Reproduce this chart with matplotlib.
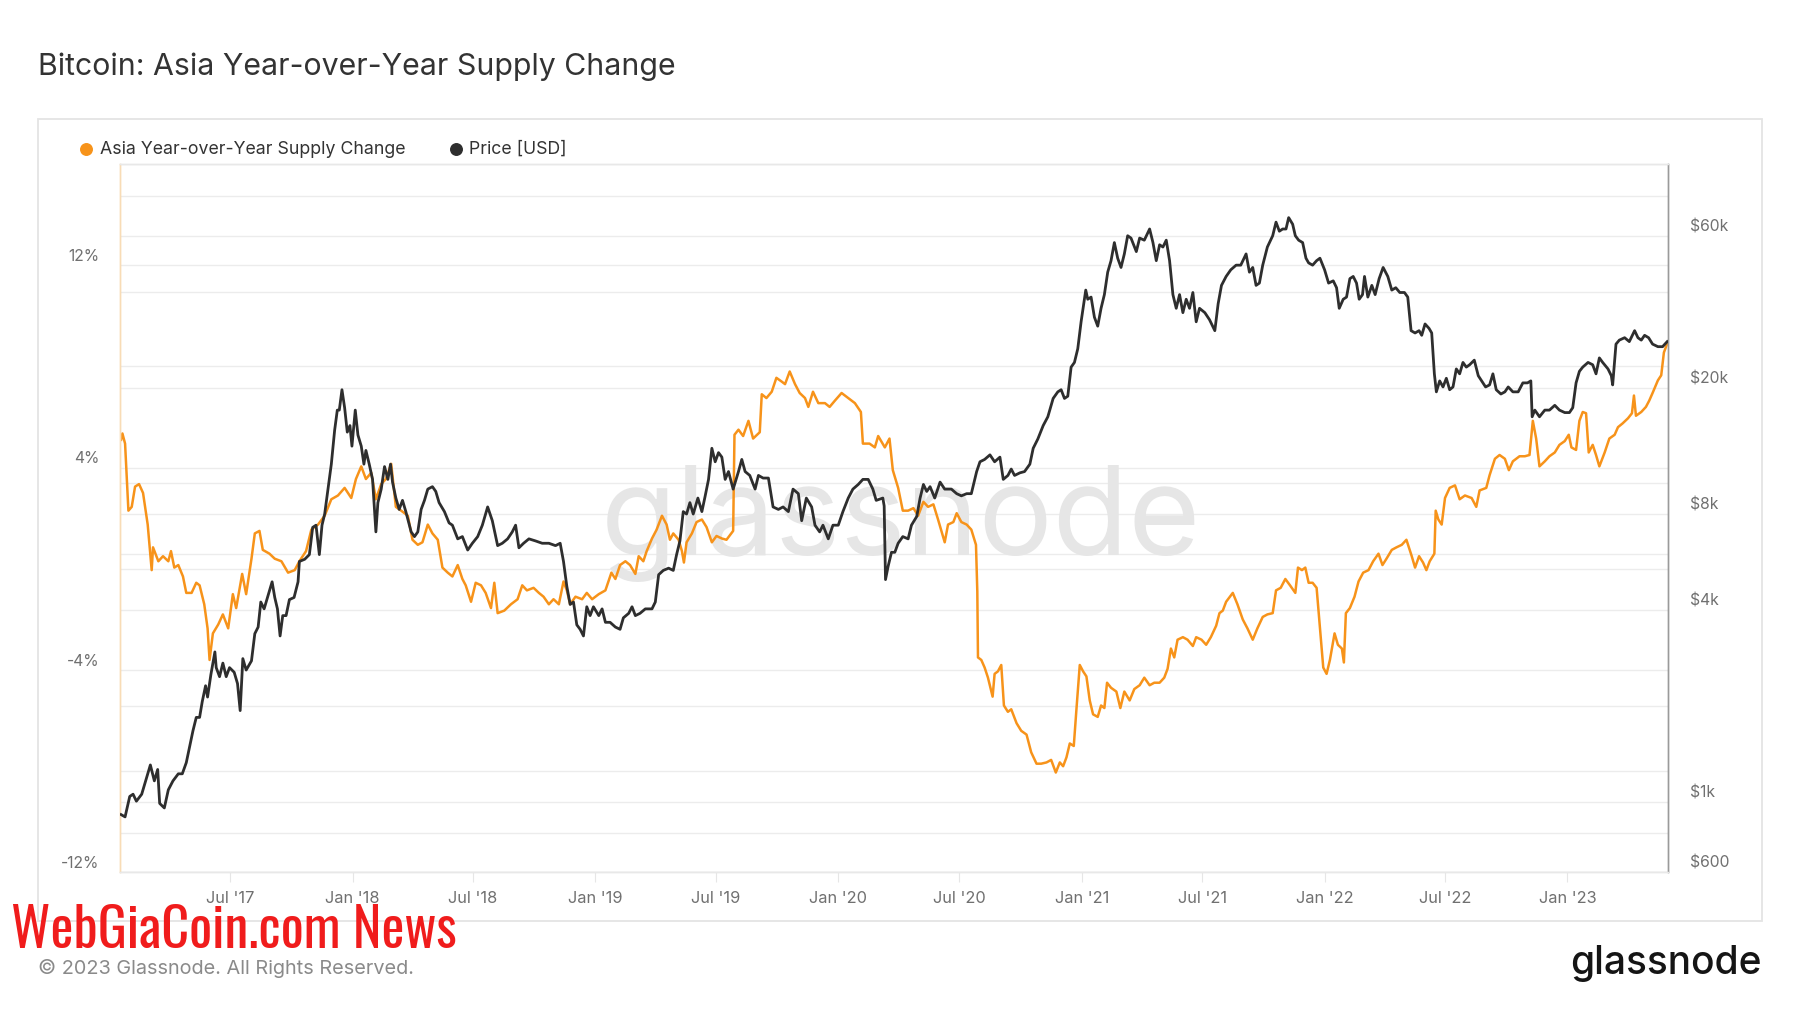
import pandas as pd
import matplotlib
matplotlib.use('Agg')
import matplotlib.pyplot as plt
import matplotlib.dates as mdates
from matplotlib.patches import Rectangle
from matplotlib.lines import Line2D
from matplotlib.transforms import blended_transform_factory, offset_copy

plt.rcParams['font.family'] = ['Inter', 'DejaVu Sans']

# Asia year-over-year supply change, %
supply_dates = [
    '2017-01-18', '2017-01-20', '2017-01-24', '2017-01-29', '2017-02-03', '2017-02-08', '2017-02-14',
    '2017-02-20', '2017-02-27', '2017-03-05', '2017-03-07', '2017-03-15', '2017-03-22', '2017-03-30',
    '2017-04-03', '2017-04-08', '2017-04-14', '2017-04-21', '2017-04-26', '2017-05-04', '2017-05-11',
    '2017-05-16', '2017-05-23', '2017-05-28', '2017-05-31', '2017-06-05', '2017-06-13', '2017-06-20',
    '2017-06-28', '2017-07-05', '2017-07-10', '2017-07-19', '2017-07-25', '2017-08-02', '2017-08-07',
    '2017-08-14', '2017-08-19', '2017-08-29', '2017-09-06', '2017-09-16', '2017-09-26', '2017-10-06',
    '2017-10-13', '2017-10-23', '2017-10-31', '2017-11-10', '2017-11-20', '2017-11-30', '2017-12-10',
    '2017-12-20', '2017-12-30', '2018-01-06', '2018-01-14', '2018-01-21', '2018-01-29', '2018-02-05',
    '2018-02-13', '2018-02-20', '2018-02-28', '2018-03-07', '2018-03-15', '2018-03-25', '2018-04-01',
    '2018-04-09', '2018-04-16', '2018-04-24', '2018-05-01', '2018-05-09', '2018-05-16', '2018-05-24',
    '2018-05-31', '2018-06-08', '2018-06-15', '2018-06-20', '2018-06-28', '2018-07-05', '2018-07-13',
    '2018-07-20', '2018-07-28', '2018-08-02', '2018-08-07', '2018-08-17', '2018-08-27', '2018-09-06',
    '2018-09-13', '2018-09-20', '2018-09-30', '2018-10-08', '2018-10-15', '2018-10-23', '2018-10-30',
    '2018-11-07', '2018-11-14', '2018-11-19', '2018-11-24', '2018-12-02', '2018-12-12', '2018-12-19',
    '2018-12-27', '2019-01-06', '2019-01-16', '2019-01-25', '2019-01-31', '2019-02-07', '2019-02-15',
    '2019-02-22', '2019-03-02', '2019-03-07', '2019-03-14', '2019-03-19', '2019-03-27', '2019-04-03',
    '2019-04-11', '2019-04-18', '2019-04-23', '2019-04-28', '2019-05-06', '2019-05-11', '2019-05-14',
    '2019-05-18', '2019-05-26', '2019-06-02', '2019-06-10', '2019-06-17', '2019-06-25', '2019-07-02',
    '2019-07-10', '2019-07-17', '2019-07-27', '2019-07-29', '2019-08-04', '2019-08-11', '2019-08-19',
    '2019-08-26', '2019-09-05', '2019-09-08', '2019-09-15', '2019-09-23', '2019-09-30', '2019-10-08',
    '2019-10-13', '2019-10-20', '2019-10-28', '2019-11-04', '2019-11-12', '2019-11-17', '2019-11-24',
    '2019-12-02', '2019-12-12', '2019-12-19', '2019-12-27', '2020-01-06', '2020-01-16', '2020-01-26',
    '2020-02-04', '2020-02-07', '2020-02-17', '2020-02-25', '2020-03-01', '2020-03-11', '2020-03-18',
    '2020-03-23', '2020-03-31', '2020-04-07', '2020-04-15', '2020-04-23', '2020-04-30', '2020-05-08',
    '2020-05-15', '2020-05-23', '2020-05-30', '2020-06-04', '2020-06-09', '2020-06-14', '2020-06-22',
    '2020-06-27', '2020-07-04', '2020-07-12', '2020-07-19', '2020-07-26', '2020-07-28', '2020-07-29',
    '2020-08-03', '2020-08-08', '2020-08-13', '2020-08-20', '2020-08-23', '2020-08-28', '2020-09-02',
    '2020-09-06', '2020-09-12', '2020-09-17', '2020-09-25', '2020-10-02', '2020-10-10', '2020-10-17',
    '2020-10-25', '2020-11-01', '2020-11-09', '2020-11-16', '2020-11-23', '2020-11-29', '2020-12-04',
    '2020-12-09', '2020-12-14', '2020-12-20', '2020-12-24', '2020-12-29', '2021-01-03', '2021-01-08',
    '2021-01-13', '2021-01-18', '2021-01-25', '2021-01-30', '2021-02-04', '2021-02-08', '2021-02-14',
    '2021-02-22', '2021-02-28', '2021-03-06', '2021-03-14', '2021-03-21', '2021-03-29', '2021-04-05',
    '2021-04-13', '2021-04-20', '2021-04-28', '2021-05-05', '2021-05-10', '2021-05-15', '2021-05-20',
    '2021-05-25', '2021-06-02', '2021-06-09', '2021-06-17', '2021-06-22', '2021-06-30', '2021-07-07',
    '2021-07-14', '2021-07-22', '2021-07-27', '2021-08-01', '2021-08-06', '2021-08-16', '2021-08-23',
    '2021-08-31', '2021-09-07', '2021-09-15', '2021-09-22', '2021-09-30', '2021-10-07', '2021-10-15',
    '2021-10-20', '2021-10-27', '2021-11-03', '2021-11-10', '2021-11-18', '2021-11-22', '2021-11-28',
    '2021-12-03', '2021-12-08', '2021-12-14', '2021-12-20', '2021-12-25', '2021-12-30', '2022-01-04',
    '2022-01-09', '2022-01-16', '2022-01-21', '2022-01-27', '2022-01-30', '2022-02-02', '2022-02-08',
    '2022-02-15', '2022-02-21', '2022-02-28', '2022-03-08', '2022-03-15', '2022-03-23', '2022-03-29',
    '2022-04-04', '2022-04-12', '2022-04-19', '2022-04-27', '2022-05-04', '2022-05-12', '2022-05-17',
    '2022-05-23', '2022-05-29', '2022-06-03', '2022-06-08', '2022-06-15', '2022-06-17', '2022-06-21',
    '2022-06-26', '2022-07-01', '2022-07-08', '2022-07-16', '2022-07-23', '2022-07-31', '2022-08-10',
    '2022-08-17', '2022-08-22', '2022-09-01', '2022-09-06', '2022-09-14', '2022-09-21', '2022-09-29',
    '2022-10-05', '2022-10-11', '2022-10-21', '2022-10-29', '2022-11-05', '2022-11-10', '2022-11-15',
    '2022-11-20', '2022-11-28', '2022-12-05', '2022-12-13', '2022-12-20', '2022-12-28', '2023-01-03',
    '2023-01-07', '2023-01-14', '2023-01-19', '2023-01-24', '2023-01-29', '2023-02-02', '2023-02-08',
    '2023-02-13', '2023-02-18', '2023-02-26', '2023-03-05', '2023-03-13', '2023-03-18', '2023-03-25',
    '2023-04-02', '2023-04-08', '2023-04-11', '2023-04-14', '2023-04-22', '2023-04-29', '2023-05-04',
    '2023-05-09', '2023-05-17', '2023-05-22', '2023-05-26', '2023-05-31',
]
supply_change = [
    5.1, 5.35, 4.95, 2.3, 2.45, 3.25, 3.35,
    3.0, 1.75, -0.05, 0.85, 0.3, 0.5, 0.3,
    0.7, 0.05, 0.15, -0.3, -0.95, -0.95, -0.55,
    -0.65, -1.4, -2.35, -3.6, -2.55, -2.2, -1.8,
    -2.35, -1.0, -1.55, -0.2, -1.0, 0.4, 1.4,
    1.5, 0.75, 0.6, 0.4, 0.3, -0.15, -0.05,
    0.3, 0.7, 1.55, 1.75, 2.1, 2.75, 2.9,
    3.2, 2.8, 3.55, 4.05, 3.55, 3.8, 2.75,
    3.35, 3.55, 4.15, 2.45, 2.3, 2.1, 1.15,
    0.95, 1.05, 1.75, 1.4, 1.15, 0.05, -0.15,
    -0.3, 0.15, -0.4, -0.65, -1.3, -0.55, -0.65,
    -0.95, -1.55, -0.55, -1.75, -1.65, -1.4, -1.2,
    -0.65, -0.85, -0.75, -0.95, -1.1, -1.4, -1.2,
    -1.4, -0.5, -0.85, -1.4, -1.1, -1.2, -0.95,
    -1.2, -1.0, -0.85, -0.15, -0.4, 0.15, 0.3,
    0.15, -0.2, 0.5, 0.3, 0.7, 1.2, 1.55,
    2.1, 1.75, 1.15, 1.4, 1.15, 0.7, 0.25,
    1.05, 1.4, 1.85, 1.95, 1.65, 1.05, 1.3,
    1.2, 1.15, 1.5, 5.3, 5.5, 5.25, 5.85,
    5.15, 5.4, 6.9, 6.75, 7.0, 7.55, 7.4,
    7.3, 7.8, 7.3, 6.95, 6.75, 6.4, 7.0,
    6.55, 6.55, 6.4, 6.65, 6.95, 6.75, 6.55,
    6.2, 4.95, 4.95, 4.8, 5.25, 4.8, 5.15,
    3.9, 3.2, 2.3, 2.3, 2.4, 2.1, 2.65,
    2.45, 2.55, 1.95, 1.5, 1.05, 1.75, 1.85,
    2.2, 1.85, 1.75, 1.55, 0.95, -0.9, -3.5,
    -3.6, -3.9, -4.3, -5.05, -4.15, -4.05, -3.8,
    -5.4, -5.65, -5.55, -6.1, -6.4, -6.55, -7.25,
    -7.7, -7.7, -7.65, -7.55, -8.05, -7.65, -7.8,
    -7.45, -6.9, -7.0, -5.55, -3.8, -4.05, -4.25,
    -5.2, -5.75, -5.85, -5.4, -5.5, -4.5, -4.7,
    -4.85, -5.5, -4.85, -5.2, -4.75, -4.6, -4.3,
    -4.6, -4.5, -4.5, -4.3, -3.95, -3.15, -3.5,
    -2.8, -2.7, -2.8, -3.05, -2.7, -2.8, -3.0,
    -2.7, -2.25, -1.75, -1.65, -1.3, -0.95, -1.4,
    -2.0, -2.35, -2.8, -2.35, -1.9, -1.8, -1.75,
    -0.85, -0.75, -0.4, -0.65, -0.95, 0.05, -0.05,
    0.05, -0.55, -0.55, -0.75, -2.35, -3.9, -4.15,
    -3.6, -2.55, -3.0, -3.15, -3.7, -1.75, -1.55,
    -1.1, -0.5, -0.15, -0.05, 0.3, 0.6, 0.15,
    0.4, 0.75, 0.85, 0.95, 1.15, 0.5, 0.05,
    0.5, 0.25, -0.05, 0.3, 0.6, 2.3, 1.95,
    1.75, 2.8, 3.2, 3.3, 2.75, 2.9, 2.8,
    2.45, 3.1, 3.2, 3.7, 4.35, 4.5, 4.35,
    3.9, 4.25, 4.45, 4.45, 4.5, 5.85, 5.15,
    4.05, 4.25, 4.45, 4.6, 4.9, 5.05, 5.3,
    4.8, 4.7, 5.85, 6.2, 6.15, 4.6, 4.9,
    4.5, 4.05, 4.6, 5.15, 5.3, 5.6, 5.75,
    5.95, 6.15, 6.85, 6.05, 6.2, 6.4, 6.65,
    6.95, 7.45, 7.65, 8.55, 8.9,
]

# BTC price, USD
price_dates = [
    '2017-01-18', '2017-01-24', '2017-01-31', '2017-02-05', '2017-02-10', '2017-02-18', '2017-02-25',
    '2017-03-03', '2017-03-09', '2017-03-14', '2017-03-17', '2017-03-24', '2017-03-30', '2017-04-06',
    '2017-04-14', '2017-04-20', '2017-04-26', '2017-05-01', '2017-05-06', '2017-05-11', '2017-05-16',
    '2017-05-20', '2017-05-25', '2017-05-28', '2017-06-02', '2017-06-08', '2017-06-10', '2017-06-15',
    '2017-06-20', '2017-06-25', '2017-06-30', '2017-07-07', '2017-07-12', '2017-07-16', '2017-07-20',
    '2017-07-25', '2017-08-02', '2017-08-07', '2017-08-12', '2017-08-16', '2017-08-21', '2017-08-27',
    '2017-09-02', '2017-09-06', '2017-09-10', '2017-09-14', '2017-09-18', '2017-09-23', '2017-09-28',
    '2017-10-05', '2017-10-11', '2017-10-13', '2017-10-21', '2017-10-28', '2017-11-02', '2017-11-07',
    '2017-11-12', '2017-11-16', '2017-11-20', '2017-11-25', '2017-11-30', '2017-12-05', '2017-12-09',
    '2017-12-12', '2017-12-16', '2017-12-20', '2017-12-24', '2017-12-28', '2017-12-31', '2018-01-05',
    '2018-01-09', '2018-01-14', '2018-01-18', '2018-01-21', '2018-01-26', '2018-01-31', '2018-02-05',
    '2018-02-08', '2018-02-13', '2018-02-18', '2018-02-23', '2018-02-27', '2018-03-02', '2018-03-07',
    '2018-03-12', '2018-03-17', '2018-03-22', '2018-03-30', '2018-04-04', '2018-04-09', '2018-04-14',
    '2018-04-19', '2018-04-24', '2018-05-01', '2018-05-06', '2018-05-11', '2018-05-19', '2018-05-26',
    '2018-05-31', '2018-06-08', '2018-06-15', '2018-06-23', '2018-06-30', '2018-07-08', '2018-07-15',
    '2018-07-23', '2018-07-30', '2018-08-07', '2018-08-14', '2018-08-22', '2018-08-29', '2018-09-03',
    '2018-09-08', '2018-09-15', '2018-09-23', '2018-10-03', '2018-10-13', '2018-10-23', '2018-11-02',
    '2018-11-09', '2018-11-14', '2018-11-19', '2018-11-24', '2018-11-29', '2018-12-04', '2018-12-09',
    '2018-12-14', '2018-12-19', '2018-12-24', '2018-12-29', '2019-01-06', '2019-01-11', '2019-01-16',
    '2019-01-23', '2019-01-31', '2019-02-07', '2019-02-12', '2019-02-20', '2019-02-25', '2019-03-02',
    '2019-03-09', '2019-03-17', '2019-03-27', '2019-04-01', '2019-04-06', '2019-04-13', '2019-04-21',
    '2019-04-28', '2019-05-03', '2019-05-08', '2019-05-13', '2019-05-18', '2019-05-23', '2019-05-28',
    '2019-06-04', '2019-06-10', '2019-06-15', '2019-06-20', '2019-06-25', '2019-06-30', '2019-07-05',
    '2019-07-10', '2019-07-15', '2019-07-20', '2019-07-27', '2019-08-04', '2019-08-09', '2019-08-14',
    '2019-08-21', '2019-08-29', '2019-09-03', '2019-09-10', '2019-09-18', '2019-09-25', '2019-10-03',
    '2019-10-10', '2019-10-18', '2019-10-25', '2019-11-02', '2019-11-07', '2019-11-14', '2019-11-22',
    '2019-11-27', '2019-12-04', '2019-12-09', '2019-12-17', '2019-12-24', '2020-01-01', '2020-01-08',
    '2020-01-16', '2020-01-23', '2020-01-31', '2020-02-07', '2020-02-15', '2020-02-22', '2020-02-27',
    '2020-03-08', '2020-03-10', '2020-03-12', '2020-03-16', '2020-03-21', '2020-03-26', '2020-03-31',
    '2020-04-07', '2020-04-15', '2020-04-20', '2020-04-28', '2020-05-03', '2020-05-08', '2020-05-13',
    '2020-05-18', '2020-05-25', '2020-06-02', '2020-06-09', '2020-06-19', '2020-06-27', '2020-07-04',
    '2020-07-12', '2020-07-19', '2020-07-27', '2020-08-01', '2020-08-08', '2020-08-16', '2020-08-23',
    '2020-08-31', '2020-09-05', '2020-09-12', '2020-09-17', '2020-09-22', '2020-09-30', '2020-10-07',
    '2020-10-15', '2020-10-20', '2020-10-27', '2020-11-04', '2020-11-11', '2020-11-19', '2020-11-26',
    '2020-12-01', '2020-12-06', '2020-12-11', '2020-12-16', '2020-12-21', '2020-12-26', '2020-12-31',
    '2021-01-07', '2021-01-10', '2021-01-15', '2021-01-20', '2021-01-25', '2021-01-30', '2021-02-04',
    '2021-02-09', '2021-02-14', '2021-02-19', '2021-02-24', '2021-03-01', '2021-03-06', '2021-03-11',
    '2021-03-16', '2021-03-24', '2021-03-29', '2021-04-05', '2021-04-13', '2021-04-18', '2021-04-23',
    '2021-04-28', '2021-05-03', '2021-05-08', '2021-05-13', '2021-05-18', '2021-05-23', '2021-05-28',
    '2021-06-02', '2021-06-07', '2021-06-12', '2021-06-17', '2021-06-22', '2021-06-27', '2021-07-05',
    '2021-07-12', '2021-07-20', '2021-07-25', '2021-07-30', '2021-08-06', '2021-08-13', '2021-08-21',
    '2021-08-28', '2021-09-05', '2021-09-10', '2021-09-15', '2021-09-20', '2021-09-25', '2021-09-30',
    '2021-10-07', '2021-10-15', '2021-10-20', '2021-10-25', '2021-10-30', '2021-11-04', '2021-11-08',
    '2021-11-14', '2021-11-18', '2021-11-23', '2021-11-29', '2021-12-04', '2021-12-08', '2021-12-14',
    '2021-12-20', '2021-12-25', '2022-01-01', '2022-01-07', '2022-01-14', '2022-01-19', '2022-01-23',
    '2022-01-29', '2022-02-03', '2022-02-08', '2022-02-13', '2022-02-18', '2022-02-22', '2022-02-27',
    '2022-03-02', '2022-03-07', '2022-03-13', '2022-03-18', '2022-03-24', '2022-03-30', '2022-04-06',
    '2022-04-12', '2022-04-18', '2022-04-24', '2022-05-01', '2022-05-06', '2022-05-11', '2022-05-17',
    '2022-05-23', '2022-05-27', '2022-06-01', '2022-06-07', '2022-06-11', '2022-06-15', '2022-06-18',
    '2022-06-23', '2022-06-28', '2022-07-03', '2022-07-08', '2022-07-13', '2022-07-18', '2022-07-23',
    '2022-07-28', '2022-08-02', '2022-08-07', '2022-08-14', '2022-08-20', '2022-08-25', '2022-08-31',
    '2022-09-06', '2022-09-11', '2022-09-16', '2022-09-23', '2022-09-29', '2022-10-04', '2022-10-11',
    '2022-10-19', '2022-10-26', '2022-11-02', '2022-11-07', '2022-11-09', '2022-11-13', '2022-11-20',
    '2022-11-28', '2022-12-05', '2022-12-13', '2022-12-20', '2022-12-28', '2023-01-04', '2023-01-09',
    '2023-01-14', '2023-01-19', '2023-01-24', '2023-02-01', '2023-02-08', '2023-02-13', '2023-02-18',
    '2023-02-23', '2023-03-03', '2023-03-08', '2023-03-10', '2023-03-15', '2023-03-20', '2023-03-28',
    '2023-04-04', '2023-04-12', '2023-04-17', '2023-04-22', '2023-04-27', '2023-05-03', '2023-05-09',
    '2023-05-17', '2023-05-24', '2023-05-31',
]
price_usd = [
    912, 897, 1040, 1057, 1005, 1057, 1184,
    1306, 1164, 1264, 989, 957, 1091, 1164,
    1225, 1225, 1328, 1489, 1671, 1842, 1842,
    2065, 2316, 2134, 2512, 2958, 2640, 2473,
    2728, 2473, 2640, 2553, 2353, 1935, 2818,
    2594, 2773, 3375, 3540, 4243, 4038, 4453,
    4911, 4385, 4038, 3320, 3846, 3846, 4318,
    4385, 4911, 5689, 5781, 5979, 7279, 7396,
    5979, 7396, 8017, 9601, 11500, 14700, 17000,
    17000, 19700, 17300, 14500, 15200, 13100, 17000,
    14200, 13100, 11500, 12700, 11500, 10300, 7047,
    8706, 9601, 11300, 10300, 11500, 10100, 9000,
    8290, 8850, 8160, 7047, 6810, 7047, 8290,
    8850, 9601, 9772, 9441, 8706, 8160, 7520,
    7396, 6700, 6810, 6180, 6490, 6810, 7396,
    8440, 7640, 6380, 6490, 6700, 7047, 7396,
    6280, 6490, 6700, 6600, 6490, 6490, 6380,
    6490, 5689, 4750, 4170, 4243, 3597, 3483,
    3320, 4100, 3846, 4100, 3846, 4038, 3664,
    3664, 3540, 3483, 3785, 3910, 4100, 3846,
    3910, 4038, 4038, 4243, 5170, 5333, 5420,
    5333, 5979, 6600, 8160, 8017, 8706, 8017,
    9000, 8160, 9146, 10300, 12900, 11700, 12500,
    12100, 10300, 10900, 9601, 10900, 11900, 10900,
    10600, 9601, 10600, 10400, 10400, 8440, 8290,
    8440, 8160, 9601, 9290, 7640, 9000, 8440,
    7396, 7047, 7396, 6700, 7396, 7396, 8160,
    9000, 9601, 9930, 10300, 10300, 9601, 8850,
    9000, 8500, 4990, 5500, 6080, 6080, 6490,
    6810, 6700, 7396, 7880, 9000, 9930, 9441,
    9772, 9000, 10100, 9601, 9601, 9290, 9146,
    9290, 9290, 10900, 11700, 11900, 12300, 11700,
    12100, 10300, 10600, 11100, 10600, 10800, 10900,
    11500, 12900, 13800, 15200, 16200, 18500, 19400,
    19700, 18500, 18800, 23200, 24000, 26500, 32200,
    40500, 37900, 38500, 33300, 31200, 35500, 39200,
    46100, 50100, 57100, 51000, 47700, 52600, 60000,
    59000, 53500, 59000, 58100, 63000, 57100, 50100,
    56200, 55300, 58100, 50100, 39200, 35500, 39200,
    34400, 37900, 35500, 39800, 32200, 35500, 34400,
    32700, 30200, 36700, 41900, 44700, 46900, 48500,
    48500, 52600, 46100, 47700, 41900, 42600, 48500,
    55300, 60000, 66200, 62000, 63000, 63000, 68400,
    65200, 60000, 58100, 57100, 51000, 49300, 48500,
    50100, 51000, 46900, 42600, 43300, 41200, 35500,
    37900, 38500, 44000, 44700, 42600, 37900, 39200,
    44700, 38500, 41900, 39200, 44000, 47700, 44700,
    40500, 41200, 39800, 39800, 38500, 30200, 29700,
    30200, 29200, 31700, 30700, 29700, 22100, 19400,
    21000, 20100, 21400, 19700, 20100, 22900, 22100,
    24000, 23200, 23600, 24400, 21800, 21000, 20100,
    20400, 22100, 19700, 19100, 19400, 20100, 19400,
    19400, 20700, 20700, 21000, 16200, 17000, 16200,
    17000, 17000, 17600, 17000, 16700, 16700, 17300,
    20700, 22500, 23200, 24000, 23600, 22100, 24800,
    24000, 22900, 21800, 20400, 27400, 28200, 28700,
    27900, 30200, 28700, 28200, 29200, 28700, 27400,
    26900, 26900, 27900,
]

pct_grid = [-12, -8, -4, 0, 4, 8, 12, 16]
pct_labels = {12: '12%', 4: '4%', -4: '-4%', -12: '-12%'}
price_grid = [600, 800, 1000, 2000, 4000, 6000, 8000, 10000, 20000, 40000, 60000, 80000]
price_labels = {600: '$600', 1000: '$1k', 4000: '$4k', 8000: '$8k', 20000: '$20k', 60000: '$60k'}
month_ticks = pd.date_range('2017-07-01', '2023-01-01', freq='6MS')

ORANGE = '#f7931a'
DARK = '#2e2e2e'
GRID = '#ececec'
LABEL = '#707070'

fig = plt.figure(figsize=(18, 10.13), dpi=100)
fig.patch.set_facecolor('white')

# outer frame around the chart panel
fig.add_artist(Rectangle((38 / 1800, 1 - 921 / 1013), 1724 / 1800, 802 / 1013,
                         transform=fig.transFigure, fill=False, edgecolor='#e4e4e4', lw=1.3))

ax = fig.add_axes([0.0669, 0.1387, 0.8597, 0.6994])
ax2 = ax.twinx()

ax.set_xlim(pd.Timestamp('2017-01-17'), pd.Timestamp('2023-06-01'))
ax.set_ylim(-12, 16)
ax2.set_yscale('log')
ax2.set_ylim(600, 100800)

# grid lines of both axes, all kept under the series
for v in pct_grid:
    ax.axhline(v, color=GRID, lw=1, zorder=0)
price_tr = blended_transform_factory(ax.transAxes, ax2.transData)
for v in price_grid:
    ax.plot([0, 1], [v, v], transform=price_tr, color=GRID, lw=1, zorder=0)

ax.text(0.5044, 0.492, 'glassnode', transform=ax.transAxes, ha='center', va='center',
        fontsize=89, color='#e6e6e6', zorder=0.5)

ax.plot(pd.to_datetime(supply_dates), supply_change, color=ORANGE, lw=1.8, zorder=2)
ax2.plot(pd.to_datetime(price_dates), price_usd, color=DARK, lw=2.0, zorder=3)

ax.set_yticks([])
ax2.set_yticks([])
ax2.yaxis.set_minor_locator(matplotlib.ticker.NullLocator())

left_tr = offset_copy(blended_transform_factory(ax.transAxes, ax.transData), fig=fig,
                      x=-21, y=9, units='dots')
for v, s in pct_labels.items():
    ax.text(0, v, s, transform=left_tr, ha='right', va='center', fontsize=11.3, color=LABEL)
right_tr = offset_copy(blended_transform_factory(ax2.transAxes, ax2.transData), fig=fig,
                       x=22, y=9, units='dots')
for v, s in price_labels.items():
    ax2.text(1, v, s, transform=right_tr, ha='left', va='center', fontsize=11.3, color=LABEL)

ax.set_xticks(month_ticks)
ax.xaxis.set_major_formatter(mdates.DateFormatter("%b '%y"))
ax.tick_params(axis='x', length=7, color='#e6e6e6', pad=6, labelsize=11.8, labelcolor=LABEL)

for a in (ax, ax2):
    a.spines['top'].set_color('#e8e8e8')
    a.spines['bottom'].set_color('#e8e8e8')
    a.spines['left'].set_color('#f8dcb6')
    a.spines['right'].set_color('#9a9a9a')
    for sp in a.spines.values():
        sp.set_linewidth(1)

# title and legend
fig.text(38 / 1800, 1 - 67 / 1013, 'Bitcoin: Asia Year-over-Year Supply Change',
         ha='left', va='center', fontsize=21.8, color='#333333')
fig.add_artist(Line2D([86 / 1800], [1 - 149 / 1013], marker='o', markersize=8.3, color=ORANGE,
                      transform=fig.transFigure))
fig.text(100 / 1800, 1 - 149 / 1013, 'Asia Year-over-Year Supply Change', ha='left', va='center',
         fontsize=12.75, color='#333333')
fig.add_artist(Line2D([456 / 1800], [1 - 149 / 1013], marker='o', markersize=8.3, color=DARK,
                      transform=fig.transFigure))
fig.text(469 / 1800, 1 - 149 / 1013, 'Price [USD]', ha='left', va='center',
         fontsize=12.75, color='#333333')

# footer
fig.text(38 / 1800, 1 - 968 / 1013, '\u00a9 2023 Glassnode. All Rights Reserved.', ha='left',
         va='center', fontsize=14.3, color='#8a8a8a')
fig.text(1762 / 1800, 1 - 963 / 1013, 'glassnode', ha='right', va='center',
         fontsize=28, fontweight=500, color='#151515')
fig.text(11 / 1800, 1 - 931 / 1013, 'WebGiaCoin.com News', ha='left', va='center',
         fontsize=39, fontweight='bold', color='#f01c1c',
         family=['Oswald', 'Roboto Condensed', 'DejaVu Sans'], fontstretch='condensed', zorder=10)

fig.savefig('out.png', dpi=100, facecolor='white')
